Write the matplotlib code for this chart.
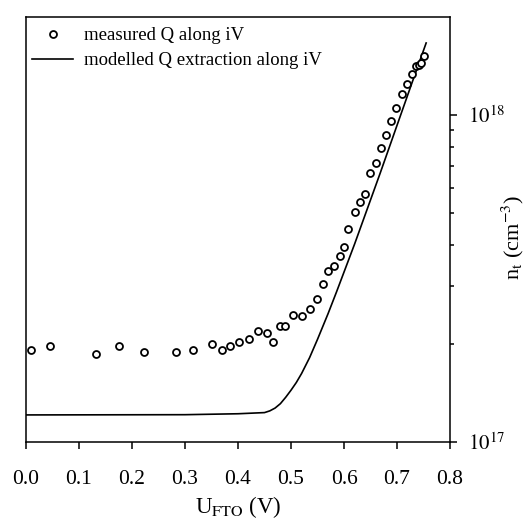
import matplotlib
matplotlib.use("Agg")
import matplotlib.pyplot as plt
import numpy as np
from matplotlib.ticker import NullFormatter, FixedLocator

plt.rcParams['font.family'] = ['Liberation Serif', 'DejaVu Serif']
plt.rcParams['mathtext.fontset'] = 'stix'

# measured Q along iV
meas_x = [0.009, 0.045, 0.133, 0.176, 0.223, 0.283, 0.316, 0.351, 0.369, 0.385,
          0.402, 0.420, 0.437, 0.454, 0.466, 0.479, 0.488, 0.503, 0.520, 0.535,
          0.549, 0.560, 0.569, 0.581, 0.593, 0.600, 0.608, 0.620, 0.630, 0.640,
          0.649, 0.660, 0.669, 0.679, 0.689, 0.699, 0.709, 0.718, 0.728, 0.736,
          0.742, 0.745, 0.750]
meas_y = [1.91, 1.96, 1.86, 1.97, 1.89, 1.88, 1.91, 2.00, 1.91, 1.97,
          2.02, 2.07, 2.18, 2.16, 2.02, 2.27, 2.27, 2.44, 2.42, 2.55,
          2.73, 3.04, 3.34, 3.46, 3.71, 3.96, 4.47, 5.04, 5.42, 5.73,
          6.66, 7.14, 7.92, 8.67, 9.59, 10.49, 11.56, 12.44, 13.3, 14.1,
          14.2, 14.4, 15.1]  # units of 1e17 cm^-3

# modelled Q extraction along iV
model_x = [0.0, 0.30, 0.40, 0.45, 0.46, 0.47, 0.48, 0.49, 0.50, 0.51,
           0.52, 0.535, 0.55, 0.57, 0.586, 0.62, 0.668, 0.70, 0.728, 0.755]
model_y = [1.21, 1.212, 1.22, 1.23, 1.245, 1.27, 1.31, 1.37, 1.44, 1.52,
           1.62, 1.81, 2.06, 2.47, 2.88, 4.03, 6.62, 9.29, 12.5, 16.6]  # 1e17 cm^-3

x_ticks = [0.0, 0.1, 0.2, 0.3, 0.4, 0.5, 0.6, 0.7, 0.8]

fig = plt.figure(figsize=(5.30, 5.21), dpi=100)
ax = fig.add_axes([26/530, 1 - 442/521, 424/530, (442 - 16.5)/521])

ax.plot(np.array(meas_x), np.array(meas_y) * 1e17, linestyle='none', marker='o',
        markersize=5, markerfacecolor='white', markeredgecolor='black',
        markeredgewidth=1.3, label='measured Q along iV', zorder=3)
ax.plot(np.array(model_x), np.array(model_y) * 1e17, color='black', linewidth=1.2,
        label='modelled Q extraction along iV', zorder=2)

ax.set_yscale('log')
ax.set_xlim(0.0, 0.8)
ax.set_ylim(1e17, 2e18)

ax.yaxis.tick_right()
ax.yaxis.set_label_position('right')
ax.yaxis.set_major_locator(FixedLocator([1e17, 1e18]))
ax.yaxis.set_minor_locator(FixedLocator([k * 1e17 for k in range(2, 10)]))
ax.yaxis.set_minor_formatter(NullFormatter())
ax.set_yticklabels([r'$10^{17}$', r'$10^{18}$'])

ax.set_xticks(x_ticks)
ax.set_xticklabels([f'{v:.1f}' for v in x_ticks])

for s in ax.spines.values():
    s.set_linewidth(1.1)

ax.tick_params(axis='x', which='major', direction='out', length=5, width=1.1,
               labelsize=15.5, pad=15)
ax.tick_params(axis='y', which='major', direction='out', length=5, width=1.1,
               labelsize=15, pad=8)
ax.tick_params(axis='y', which='minor', direction='out', length=3, width=1.1)

ax.set_xlabel(r'U$_{\mathrm{FTO}}$ (V)', fontsize=16.5, labelpad=4)
ax.set_ylabel(r'n$_{\mathrm{t}}$ (cm$^{-3}$)', fontsize=16)
ax.yaxis.set_label_coords((500 - 26) / 424, (442 - 237) / 425.5)

ax.legend(loc='upper left', bbox_to_anchor=(-4.5 / 424, 1.0), frameon=False,
          fontsize=13.5, handlelength=2.2, handletextpad=0.6,
          labelspacing=0.42, borderaxespad=0.36, borderpad=0.2)

fig.savefig('out.png', dpi=100)
